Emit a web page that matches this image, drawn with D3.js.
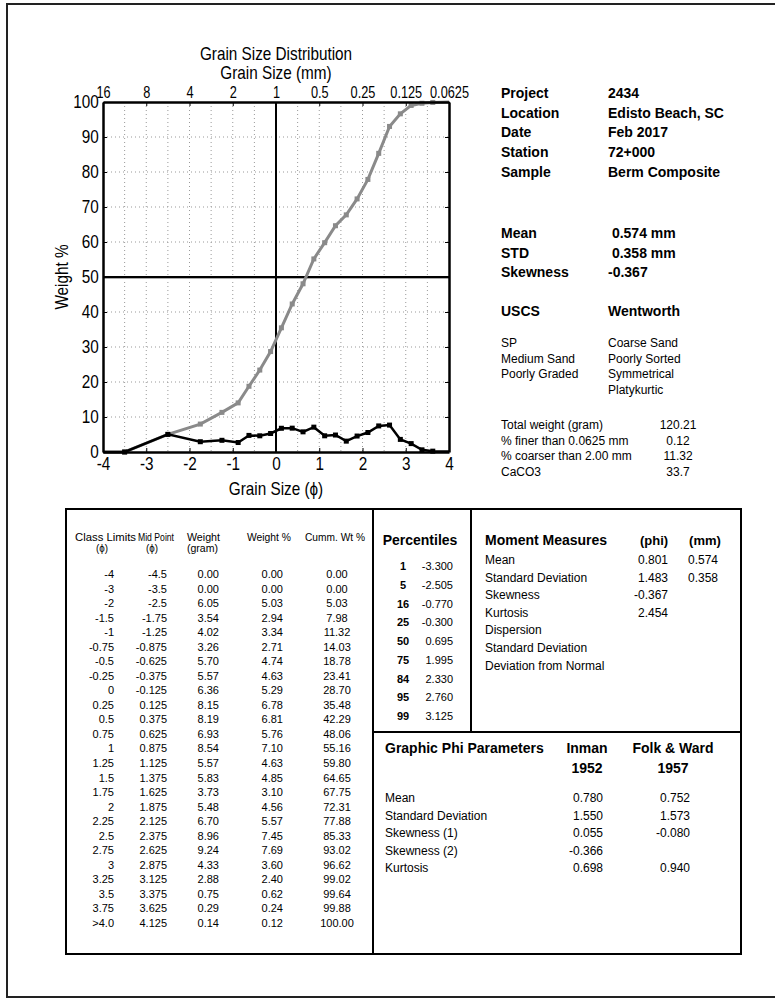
<!DOCTYPE html>
<html><head><meta charset="utf-8">
<script src="https://cdn.jsdelivr.net/npm/d3@7"></script>
<style>body{margin:0;background:#fff}svg{display:block}</style>
</head><body>
<svg id="c" width="775" height="1001"></svg>
<script>
const classLimits = ["-4","-3","-2","-1.5","-1","-0.75","-0.5","-0.25","0","0.25","0.5","0.75","1","1.25","1.5","1.75","2","2.25","2.5","2.75","3","3.25","3.5","3.75",">4.0"];
const midPoints = [-4.5,-3.5,-2.5,-1.75,-1.25,-0.875,-0.625,-0.375,-0.125,0.125,0.375,0.625,0.875,1.125,1.375,1.625,1.875,2.125,2.375,2.625,2.875,3.125,3.375,3.625,4.125];
const weights = [0.00,0.00,6.05,3.54,4.02,3.26,5.70,5.57,6.36,8.15,8.19,6.93,8.54,5.57,5.83,3.73,5.48,6.70,8.96,9.24,4.33,2.88,0.75,0.29,0.14];
const weightPct = [0.00,0.00,5.03,2.94,3.34,2.71,4.74,4.63,5.29,6.78,6.81,5.76,7.10,4.63,4.85,3.10,4.56,5.57,7.45,7.69,3.60,2.40,0.62,0.24,0.12];
const cumPct = [0.00,0.00,5.03,7.98,11.32,14.03,18.78,23.41,28.70,35.48,42.29,48.06,55.16,59.80,64.65,67.75,72.31,77.88,85.33,93.02,96.62,99.02,99.64,99.88,100.00];
const phiTicks = [-4,-3,-2,-1,0,1,2,3,4];
const mmTickLabels = ["16","8","4","2","1","0.5","0.25","0.125","0.0625"];
const yTicks = [0,10,20,30,40,50,60,70,80,90,100];

const infoLabels = ["Project","Location","Date","Station","Sample"];
const infoValues = ["2434","Edisto Beach, SC","Feb 2017","72+000","Berm Composite"];
const statLabels = ["Mean","STD","Skewness"];
const statValues = [" 0.574 mm"," 0.358 mm","-0.367"];
const uscsLines = ["SP","Medium Sand","Poorly Graded"];
const wentworthLines = ["Coarse Sand","Poorly Sorted","Symmetrical","Platykurtic"];
const totalsLabels = ["Total weight (gram)","% finer than 0.0625 mm","% coarser than 2.00 mm","CaCO3"];
const totalsValues = ["120.21","0.12","11.32","33.7"];

const percentiles = [1,5,16,25,50,75,84,95,99];
const percentileValues = ["-3.300","-2.505","-0.770","-0.300","0.695","1.995","2.330","2.760","3.125"];
const momentLabels = ["Mean","Standard Deviation","Skewness","Kurtosis","Dispersion","Standard Deviation","Deviation from Normal"];
const momentPhi = ["0.801","1.483","-0.367","2.454"];
const momentMm = ["0.574","0.358"];
const graphicLabels = ["Mean","Standard Deviation","Skewness (1)","Skewness (2)","Kurtosis"];
const inmanValues = ["0.780","1.550","0.055","-0.366","0.698"];
const folkValues = ["0.752","1.573","-0.080","","0.940"];

const svg = d3.select("#c");
const SANS = "'Liberation Sans',Arial,sans-serif";
const SQ = 0.85; // horizontal condensation for the plot's narrow lettering
const FS = 18;

// outer frame
svg.append("rect").attr("x",7).attr("y",4).attr("width",800).attr("height",993)
  .attr("fill","none").attr("stroke","#222").attr("stroke-width",2);

const x = d3.scaleLinear().domain([-4,4]).range([103,449]);
const y = d3.scaleLinear().domain([0,100]).range([452,102]);

// grid
const grid = svg.append("g").attr("stroke","#999").attr("stroke-width",1).attr("stroke-dasharray","1,3");
grid.selectAll("line.v").data(d3.range(-3.5,4,0.5)).join("line")
  .attr("x1",d=>x(d)).attr("x2",d=>x(d)).attr("y1",y(100)).attr("y2",y(0));
grid.selectAll("line.h").data(d3.range(10,100,10)).join("line")
  .attr("x1",x(-4)).attr("x2",x(4)).attr("y1",d=>y(d)).attr("y2",d=>y(d));

// reference lines
svg.append("line").attr("x1",x(-4)).attr("x2",x(4)).attr("y1",y(50)+1.5).attr("y2",y(50)+1.5).attr("stroke","#aaa").attr("stroke-width",1);
svg.append("line").attr("x1",x(0)).attr("x2",x(0)).attr("y1",y(0)).attr("y2",y(100)).attr("stroke","#000").attr("stroke-width",2);
svg.append("line").attr("x1",x(-4)).attr("x2",x(4)).attr("y1",y(50)).attr("y2",y(50)).attr("stroke","#000").attr("stroke-width",2);

// clip
svg.append("clipPath").attr("id","plot").append("rect")
  .attr("x",x(-4)).attr("y",y(100)-4).attr("width",x(4)-x(-4)).attr("height",y(0)-y(100)+8);

const cumData = midPoints.map((m,i)=>[m,cumPct[i]]);
const wData = midPoints.map((m,i)=>[m,weightPct[i]]);
const line = d3.line().x(d=>x(d[0])).y(d=>y(d[1]));
const pg = svg.append("g").attr("clip-path","url(#plot)");
pg.append("path").datum(cumData).attr("d",line).attr("fill","none").attr("stroke","#8a8a8a").attr("stroke-width",3);
pg.selectAll("rect.c").data(cumData).join("rect").attr("x",d=>x(d[0])-2.5).attr("y",d=>y(d[1])-2.5)
  .attr("width",5).attr("height",5).attr("fill","#8a8a8a");
pg.append("path").datum(wData).attr("d",line).attr("fill","none").attr("stroke","#000").attr("stroke-width",2.5);
pg.selectAll("rect.w").data(wData).join("rect").attr("x",d=>x(d[0])-2.5).attr("y",d=>y(d[1])-2.5)
  .attr("width",5).attr("height",5).attr("fill","#000");

function styleAxis(fs, sq){
  return g=>{
    g.attr("font-family",SANS).attr("font-size",fs);
    g.select(".domain").attr("stroke","#000").attr("stroke-width",2.5);
    g.selectAll(".tick line").attr("stroke","#000").attr("stroke-width",1);
    g.selectAll(".tick text").attr("fill","#000").attr("transform",`scale(${sq},1)`);
  };
}
svg.append("g").attr("transform",`translate(0,${y(0)})`)
  .call(d3.axisBottom(x).tickValues(phiTicks).tickFormat(d=>d).tickSizeInner(-4).tickSizeOuter(0).tickPadding(5)).call(styleAxis(FS,SQ));
svg.append("g").attr("transform",`translate(0,${y(100)})`)
  .call(d3.axisTop(x).tickValues(phiTicks).tickFormat((d,i)=>mmTickLabels[i]).tickSizeInner(-4).tickSizeOuter(0).tickPadding(4)).call(styleAxis(17,0.75));
svg.append("g").attr("transform",`translate(${x(-4)},0)`)
  .call(d3.axisLeft(y).tickValues(yTicks).tickSizeInner(-4).tickSizeOuter(0).tickPadding(5)).call(styleAxis(FS,SQ));
svg.append("g").attr("transform",`translate(${x(4)},0)`)
  .call(d3.axisRight(y).tickValues(yTicks).tickFormat("").tickSizeInner(-4).tickSizeOuter(0)).call(styleAxis(FS,SQ));

function narrow(t, xx, yy, rot){
  return svg.append("text").attr("transform",`translate(${xx},${yy})${rot?` rotate(${rot})`:""} scale(${SQ},1)`)
    .attr("text-anchor","middle").attr("font-family",SANS).attr("font-size",FS).text(t);
}
const cx = x(0);
narrow("Grain Size Distribution",cx,60);
narrow("Grain Size (mm)",cx,79);
narrow("Grain Size (\u03d5)",cx,495);
narrow("Weight %",68,y(50),-90);

function col(data, x0, y0, dy, opts){
  const g = svg.append("g").attr("font-family",SANS).attr("font-size",opts.size).attr("font-weight",opts.bold?"bold":"normal")
    .attr("text-anchor",opts.anchor||"start");
  g.selectAll("text").data(data).join("text").attr("x",x0).attr("y",(d,i)=>y0+i*dy).attr("xml:space","preserve").text(d=>d);
  return g;
}
// right info panel
col(infoLabels,501,98,19.7,{size:14,bold:true});
col(infoValues,608,98,19.7,{size:14,bold:true});
col(statLabels,501,238,19.7,{size:14,bold:true});
col(statValues,608,238,19.7,{size:14,bold:true});
col(["USCS"],501,316,0,{size:14,bold:true});
col(["Wentworth"],608,316,0,{size:14,bold:true});
col(uscsLines,501,347,15.7,{size:12});
col(wentworthLines,608,347,15.7,{size:12});
col(totalsLabels,501,429,15.5,{size:12});
col(totalsValues,678,429,15.5,{size:12,anchor:"middle"});

// bottom box
const box = svg.append("g").attr("fill","none").attr("stroke","#000").attr("stroke-width",2);
box.append("rect").attr("x",66).attr("y",509).attr("width",675).attr("height",445);
box.append("line").attr("x1",373).attr("x2",373).attr("y1",509).attr("y2",954);
box.append("line").attr("x1",471).attr("x2",471).attr("y1",509).attr("y2",732);
box.append("line").attr("x1",373).attr("x2",741).attr("y1",732).attr("y2",732);

// left table headers (x-start, width measured)
const th = svg.append("g").attr("font-family",SANS).attr("font-size",11).attr("text-anchor","start");
[["Class Limits",75,541,61],["(\u03d5)",96,552,12],["Mid Point",138,541,36],["(\u03d5)",146,552,12],["Weight",187,541,33],["(gram)",187,552,31],["Weight %",247,541,44],["Cumm. Wt %",305,541,60]]
  .forEach(([t,xx,yy,w])=>th.append("text").attr("x",xx).attr("y",yy).attr("textLength",w).attr("lengthAdjust","spacingAndGlyphs").text(t));
col(classLimits,114,578,14.54,{size:11,anchor:"end"});
col(midPoints.map(String),167,578,14.54,{size:11,anchor:"end"});
col(weights.map(d=>d.toFixed(2)),219,578,14.54,{size:11,anchor:"end"});
col(weightPct.map(d=>d.toFixed(2)),283,578,14.54,{size:11,anchor:"end"});
col(cumPct.map(d=>d.toFixed(2)),337,578,14.54,{size:11,anchor:"middle"});

// percentiles
col(["Percentiles"],420,545,0,{size:14,bold:true,anchor:"middle"});
col(percentiles.map(String),403,570,18.75,{size:11,bold:true,anchor:"middle"});
col(percentileValues,453,570,18.75,{size:11,anchor:"end"});

// moment measures
col(["Moment Measures"],485,545,0,{size:14,bold:true});
col(["(phi)"],654,545,0,{size:13,bold:true,anchor:"middle"});
col(["(mm)"],705,545,0,{size:13,bold:true,anchor:"middle"});
col(momentLabels,485,564,17.6,{size:12});
col(momentPhi,668,564,17.6,{size:12,anchor:"end"});
col(momentMm,718,564,17.6,{size:12,anchor:"end"});

// graphic phi
col(["Graphic Phi Parameters"],385,753,0,{size:14,bold:true});
col(["Inman","1952"],587,753,20,{size:14,bold:true,anchor:"middle"});
col(["Folk & Ward","1957"],673,753,20,{size:14,bold:true,anchor:"middle"});
col(graphicLabels,385,802,17.5,{size:12});
col(inmanValues,603,802,17.5,{size:12,anchor:"end"});
col(folkValues,690,802,17.5,{size:12,anchor:"end"});
</script>
</body></html>
